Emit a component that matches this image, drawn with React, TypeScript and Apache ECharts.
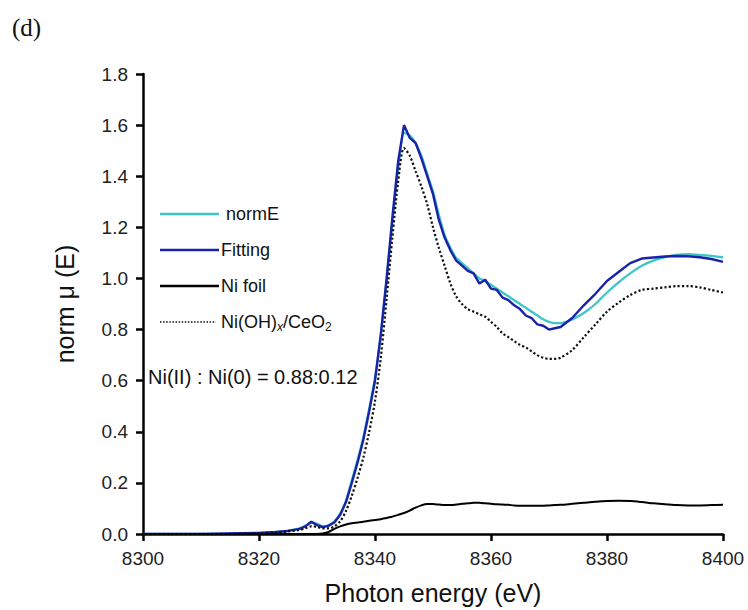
import React, { useEffect, useRef } from "react";
import * as echarts from "echarts";

const energy = [
  8300, 8305, 8310, 8315, 8320, 8323, 8325,
  8327, 8328, 8329, 8330, 8331, 8332, 8333, 8334, 8335, 8336,
  8337, 8338, 8339, 8340, 8341, 8342, 8343, 8344, 8345, 8346,
  8347, 8348, 8349, 8350, 8351, 8352, 8353, 8354, 8355, 8356,
  8357, 8358, 8359, 8360, 8361, 8362, 8363, 8364, 8365, 8366,
  8367, 8368, 8369, 8370, 8371, 8372,
  8374, 8376, 8378, 8380, 8382, 8384, 8386, 8388, 8390, 8392, 8394, 8396, 8398, 8400,
];

const fitting = [
  0, 0, 0, 0.002, 0.004, 0.008, 0.012,
  0.02, 0.03, 0.048, 0.035, 0.027, 0.032, 0.045, 0.075, 0.125, 0.2,
  0.28, 0.37, 0.48, 0.6, 0.78, 1.0, 1.24, 1.46, 1.6, 1.55,
  1.53, 1.47, 1.4, 1.33, 1.23, 1.16, 1.11, 1.07, 1.05, 1.03,
  1.02, 0.98, 0.995, 0.96, 0.955, 0.925, 0.915, 0.895, 0.88, 0.855,
  0.845, 0.82, 0.815, 0.8, 0.805, 0.81,
  0.845, 0.895, 0.94, 0.99, 1.025, 1.06, 1.078, 1.082, 1.086, 1.088, 1.087, 1.083, 1.076, 1.065,
];

const normE = [
  0, 0, 0, 0.002, 0.004, 0.008, 0.013,
  0.022, 0.032, 0.045, 0.04, 0.03, 0.035, 0.05, 0.08, 0.13, 0.21,
  0.29, 0.38, 0.49, 0.61, 0.78, 0.99, 1.22, 1.43, 1.57, 1.56,
  1.53, 1.48, 1.41, 1.34, 1.25, 1.17, 1.12, 1.08, 1.06, 1.04,
  1.02, 1.0, 0.99, 0.975, 0.96, 0.945, 0.93, 0.915, 0.9, 0.885,
  0.87, 0.855, 0.84, 0.83, 0.825, 0.825,
  0.84, 0.865, 0.9, 0.945, 0.985, 1.02, 1.05, 1.07, 1.083, 1.092, 1.095, 1.092, 1.088, 1.083,
];

const niFoil = [
  0, 0, 0, 0, 0, 0, 0,
  0, 0, 0, 0, 0.002, 0.008, 0.02, 0.03, 0.037, 0.042,
  0.045, 0.048, 0.052, 0.055, 0.058, 0.063, 0.068, 0.075, 0.082, 0.092,
  0.103, 0.112, 0.117, 0.117, 0.115, 0.113, 0.113, 0.115, 0.118, 0.12,
  0.122, 0.122, 0.12, 0.118, 0.116, 0.115, 0.114, 0.112, 0.111, 0.111,
  0.111, 0.111, 0.111, 0.112, 0.113, 0.114,
  0.118, 0.122, 0.126, 0.129, 0.13, 0.129, 0.125, 0.12, 0.116, 0.113, 0.112, 0.112, 0.113, 0.114,
];

const niOHCeO2 = [
  0, 0, 0, 0, 0.003, 0.006, 0.01,
  0.016, 0.022, 0.03, 0.028, 0.022, 0.022, 0.03, 0.05, 0.09, 0.15,
  0.22, 0.3, 0.4, 0.52, 0.69, 0.92, 1.16, 1.38, 1.51, 1.48,
  1.42, 1.36, 1.29, 1.2, 1.12, 1.05, 0.98, 0.93, 0.9, 0.88,
  0.87, 0.86, 0.85, 0.83, 0.81, 0.785, 0.77, 0.755, 0.74, 0.73,
  0.715, 0.7, 0.69, 0.685, 0.685, 0.69,
  0.72, 0.77, 0.82, 0.87, 0.905, 0.935, 0.955, 0.96, 0.965, 0.97, 0.97, 0.965, 0.955, 0.945,
];

const seriesNames = ["normE", "Fitting", "Ni foil", "Ni(OH)x/CeO2"];
const legendTexts = [" normE", "Fitting", "Ni foil", "Ni(OH){sx|x}/CeO{s2|2}"];
const ratioLabel = "Ni(II) : Ni(0) = 0.88:0.12";
const panelLabel = "(d)";
const xTitle = "Photon energy (eV)";
const yTitle = "norm \u03bc (E)";

const FONT = "'Liberation Sans', Arial, sans-serif";
const COLORS = ["#3cc6c8", "#1a22a8", "#000000", "#111111"];

function pairs(ys: number[]) {
  return energy.map((e, i) => [e, ys[i]]);
}

export default function App() {
  const ref = useRef<HTMLDivElement>(null);
  useEffect(() => {
    if (!ref.current) return;
    const chart = echarts.init(ref.current, undefined, { renderer: "svg" });
    const axisLine = { show: true, lineStyle: { color: "#000", width: 2.5 } };
    const axisTick = { show: true, length: 7, lineStyle: { color: "#000", width: 2.5 } };
    const legendY = [214, 250, 286, 322];
    const legendGraphics: any[] = [];
    seriesNames.forEach((_, i) => {
      const dotted = i === 3;
      legendGraphics.push({
        type: "line",
        shape: { x1: 160, y1: legendY[i], x2: dotted ? 216 : 219, y2: legendY[i] },
        style: {
          stroke: COLORS[i],
          lineWidth: dotted ? 1.5 : 2.4,
          lineDash: dotted ? [1.5, 1.6] : null,
        },
        silent: true,
      });
      legendGraphics.push({
        type: "text",
        x: 221,
        y: legendY[i],
        style: {
          text: legendTexts[i],
          fontFamily: FONT,
          fontSize: 18,
          fill: "#111",
          verticalAlign: "middle",
          rich: {
            sx: { fontFamily: FONT, fontSize: 12, fontStyle: "italic", fill: "#111", padding: [9, 0, 0, 0] },
            s2: { fontFamily: FONT, fontSize: 12, fill: "#111", padding: [9, 0, 0, 0] },
          },
        },
        silent: true,
      });
    });

    chart.setOption({
      animation: false,
      backgroundColor: "#fff",
      grid: { left: 143, right: 25, top: 74, bottom: 76, containLabel: false },
      xAxis: {
        type: "value",
        min: 8300,
        max: 8400,
        interval: 20,
        name: xTitle,
        nameLocation: "middle",
        nameGap: 46,
        nameTextStyle: { fontFamily: FONT, fontSize: 25, color: "#111" },
        axisLine,
        axisTick,
        splitLine: { show: false },
        axisLabel: {
          fontFamily: FONT,
          fontSize: 19,
          color: "#222",
          margin: 15,
          formatter: (v: number) => String(v),
        },
      },
      yAxis: {
        type: "value",
        min: 0,
        max: 1.8,
        interval: 0.2,
        name: yTitle,
        nameLocation: "middle",
        nameGap: 66,
        nameRotate: 90,
        nameTextStyle: { fontFamily: FONT, fontSize: 25, color: "#111" },
        axisLine,
        axisTick,
        splitLine: { show: false },
        axisLabel: {
          fontFamily: FONT,
          fontSize: 19,
          color: "#222",
          margin: 15,
          formatter: (v: number) => v.toFixed(1),
        },
      },
      series: [
        {
          name: seriesNames[0],
          type: "line",
          data: pairs(normE),
          showSymbol: false,
          symbol: "none",
          smooth: 0.2,
          lineStyle: { color: COLORS[0], width: 2.3 },
          itemStyle: { color: COLORS[0] },
          z: 2,
        },
        {
          name: seriesNames[1],
          type: "line",
          data: pairs(fitting),
          showSymbol: false,
          symbol: "none",
          smooth: false,
          lineStyle: { color: COLORS[1], width: 2.4 },
          itemStyle: { color: COLORS[1] },
          z: 3,
        },
        {
          name: seriesNames[2],
          type: "line",
          data: pairs(niFoil),
          showSymbol: false,
          symbol: "none",
          smooth: 0.3,
          lineStyle: { color: COLORS[2], width: 2 },
          itemStyle: { color: COLORS[2] },
          z: 4,
        },
        {
          name: seriesNames[3],
          type: "line",
          data: pairs(niOHCeO2),
          showSymbol: false,
          symbol: "none",
          smooth: 0.3,
          lineStyle: { color: COLORS[3], width: 2.2, type: [2.2, 2.2] },
          itemStyle: { color: COLORS[3] },
          z: 5,
        },
      ],
      graphic: [
        ...legendGraphics,
        {
          type: "text",
          left: 12,
          top: 15,
          style: { text: panelLabel, font: "25px 'Liberation Serif', 'Times New Roman', serif", fill: "#111" },
        },
        {
          type: "text",
          left: 148,
          top: 367,
          style: { text: ratioLabel, font: `20px ${FONT}`, fill: "#111" },
        },
      ],
    });
    return () => chart.dispose();
  }, []);
  return <div ref={ref} style={{ width: 748, height: 610, position: "absolute", left: 0, top: 0 }} />;
}
